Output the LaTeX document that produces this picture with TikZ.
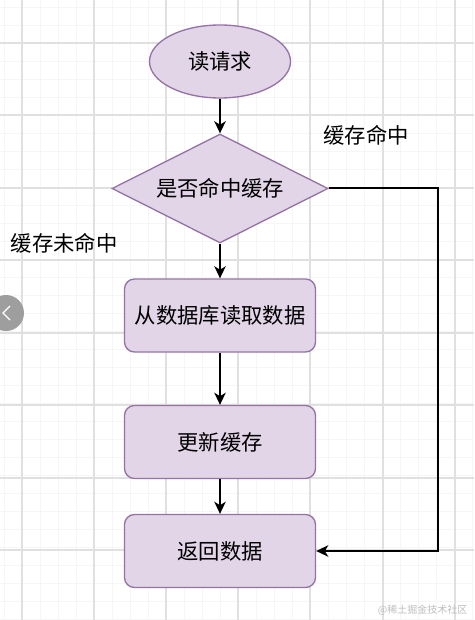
\documentclass[tikz,border=0pt]{standalone}
\usepackage{fontspec}
\newfontfamily\cjk{Noto Sans CJK SC}
\usetikzlibrary{arrows.meta,shapes.geometric}

\begin{document}
\begin{tikzpicture}[x=0.75pt, y=-0.75pt, font=\cjk\fontsize{16pt}{19pt}\selectfont]
% Colors
\definecolor{boxfill}{RGB}{225,213,231}
\definecolor{boxline}{RGB}{150,115,166}
\definecolor{gridmajor}{RGB}{224,224,224}
\definecolor{gridminor}{RGB}{246,246,246}
\definecolor{knob}{RGB}{158,158,158}
\definecolor{mark}{RGB}{190,190,190}

% Styles
\tikzset{
  shapebase/.style={fill=boxfill, draw=boxline, line width=1pt, text=black},
  startnode/.style={shapebase, ellipse, minimum width=105.75pt, minimum height=54.75pt, inner sep=0pt},
  decision/.style={shapebase, diamond, shape aspect=2, minimum width=162pt, minimum height=81.75pt, inner sep=0pt},
  stepbox/.style={shapebase, rectangle, rounded corners=7.5pt, minimum width=143.25pt, minimum height=54.75pt},
  flow/.style={-{Stealth[length=9pt, width=8.5pt, inset=2.5pt]}, line width=1.5pt, black}
}

% Background and grid
\fill[white] (0,0) rectangle (474,620);
\useasboundingbox (0,0) rectangle (474,620);
\foreach \x in {4,22,...,474}{
  \draw[gridminor, line width=0.6pt] (\x,0) -- (\x,620);
}
\foreach \y in {7,25,...,620}{
  \draw[gridminor, line width=0.6pt] (0,\y) -- (474,\y);
}
\foreach \x in {22,94,166,238,310,383,455}{
  \draw[gridmajor, line width=0.9pt] (\x,0) -- (\x,620);
}
\foreach \y in {43,115,188,260,333,405,478,550}{
  \draw[gridmajor, line width=0.9pt] (0,\y) -- (474,\y);
}

% Flow nodes
\node[startnode] (req) at (220,61.5) {读请求};
\node[decision] (hit) at (220,188.5) {是否命中缓存};
\node[stepbox] (db) at (220,315.5) {从数据库读取数据};
\node[stepbox] (upd) at (220,442) {更新缓存};
\node[stepbox] (ret) at (220,551) {返回数据};

% Branch labels
\node (hitlbl) at (366,135) {缓存命中};
\node (misslbl) at (64,243) {缓存未命中};

% Connectors
\coordinate (bend) at (438,188.5);
\draw[flow] (req) -- (hit);
\draw[flow] (hit) -- (db);
\draw[flow] (db) -- (upd);
\draw[flow] (upd) -- (ret);
\draw[flow] (hit.east) -- (bend) |- (ret.east);

% Side knob
\fill[knob] (6,313) circle (18);
\draw[white, line width=0.8pt] (10,306) -- (3,313) -- (10,320);

% Watermark
\node[text=mark, font=\cjk\fontsize{7.5pt}{9pt}\selectfont, anchor=east] (wm) at (472,610) {@稀土掘金技术社区};

\end{tikzpicture}
\end{document}
